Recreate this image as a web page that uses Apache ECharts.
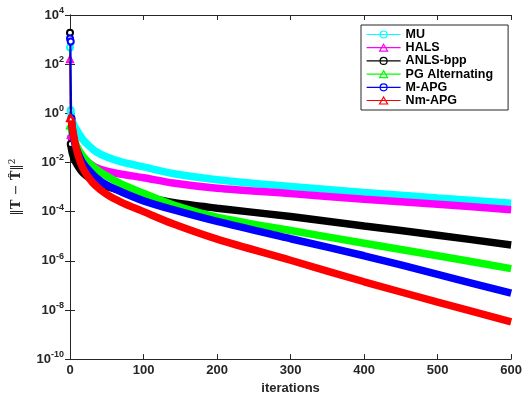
<!DOCTYPE html>
<html>
<head>
<meta charset="utf-8">
<script src="https://cdn.jsdelivr.net/npm/echarts@6/dist/echarts.min.js"></script>
<style>
html,body{margin:0;padding:0;background:#fff;}
#chart{width:525px;height:400px;}
</style>
</head>
<body>
<div id="chart"></div>
<script>
// ---- data ----
const seriesNames = ['MU', 'HALS', 'ANLS-bpp', 'PG Alternating', 'M-APG', 'Nm-APG'];
const seriesColors = ['#00ffff', '#ff00ff', '#000000', '#00ff00', '#0000ff', '#ff0000'];
const seriesMarkers = ['circle', 'triangle', 'circle', 'triangle', 'circle', 'triangle'];

// first iterations (thin segment with markers)
const muStartIters = [0, 1];
const muStart = [480, 1.32];
const halsStartIters = [0, 1];
const halsStart = [160, 0.132];
const anlsStartIters = [0, 1];
const anlsStart = [1900, 0.056];
const pgStartIters = [0, 1];
const pgStart = [0.33, 0.316];
const mapgStartIters = [0, 1, 2];
const mapgStart = [1100, 830, 0.63];
const nmapgStartIters = [0, 1];
const nmapgStart = [0.65, 0.63];

// main curve
const iters = [1, 2, 3, 5, 8, 12, 17, 25, 35, 50, 70, 100, 140, 200, 300, 400, 500, 600];
const muVals = [1.32, 0.63, 0.50, 0.355, 0.24, 0.151, 0.089, 0.050, 0.028, 0.0166, 0.0105, 0.0066, 0.00355, 0.0020, 0.00105, 6.0e-4, 3.55e-4, 2.2e-4];
const halsVals = [0.132, 0.089, 0.071, 0.050, 0.0316, 0.0224, 0.0151, 0.010, 0.0063, 0.00447, 0.00331, 0.0024, 0.00145, 8.9e-4, 5.4e-4, 3.2e-4, 2.0e-4, 1.2e-4];
const anlsVals = [0.056, 0.0355, 0.0251, 0.0158, 0.010, 0.0063, 0.00398, 0.00251, 0.00166, 0.00105, 7.1e-4, 4.2e-4, 2.35e-4, 1.38e-4, 6.3e-5, 2.6e-5, 1.1e-5, 4.4e-6];
const pgVals = [0.316, 0.224, 0.158, 0.1, 0.056, 0.0316, 0.019, 0.01, 0.0056, 0.0028, 0.00132, 5.6e-4, 1.9e-4, 6.0e-5, 1.7e-5, 5.2e-6, 1.6e-6, 4.8e-7];
const mapgIters = [2, 3, 5, 8, 12, 17, 25, 35, 50, 70, 100, 140, 200, 300, 400, 500, 600];
const mapgVals = [0.63, 0.25, 0.1, 0.04, 0.02, 0.01, 0.005, 0.0025, 0.0012, 6.3e-4, 2.75e-4, 1.2e-4, 4.0e-5, 7.9e-6, 1.6e-6, 2.8e-7, 4.8e-8];
const nmapgVals = [0.63, 0.447, 0.282, 0.126, 0.0447, 0.0158, 0.0063, 0.0025, 0.00112, 5.0e-4, 2.4e-4, 1.0e-4, 3.2e-5, 7.6e-6, 1.05e-6, 1.4e-7, 2.1e-8, 3.3e-9];

const xTicks = [0, 100, 200, 300, 400, 500, 600];

const starts = [
  [muStartIters, muStart], [halsStartIters, halsStart], [anlsStartIters, anlsStart],
  [pgStartIters, pgStart], [mapgStartIters, mapgStart], [nmapgStartIters, nmapgStart]
];
const mains = [
  [iters, muVals], [iters, halsVals], [iters, anlsVals],
  [iters, pgVals], [mapgIters, mapgVals], [iters, nmapgVals]
];

function zip(xs, ys) { return xs.map((x, i) => [x, ys[i]]); }

const axisColor = '#262626';
const font = 'Liberation Sans, Arial, Helvetica, sans-serif';

const series = [];
seriesNames.forEach((name, k) => {
  const c = seriesColors[k];
  series.push({
    name: name, type: 'line',
    data: zip(starts[k][0], starts[k][1]),
    symbol: seriesMarkers[k] === 'circle' ? 'emptyCircle' : 'emptyTriangle',
    symbolSize: 6,
    showAllSymbol: true,
    lineStyle: { color: c, width: 1.5 },
    itemStyle: { color: c, borderColor: c, borderWidth: 1 },
    animation: false, silent: true, z: 2 + k
  });
  series.push({
    name: name, type: 'line',
    data: zip(mains[k][0], mains[k][1]),
    showSymbol: false,
    smooth: 0.3,
    lineStyle: { color: c, width: 7.5 },
    itemStyle: { color: c },
    animation: false, silent: true, z: 2 + k
  });
});

const circleIcon = 'path://M0,5L34,5M20.5,5A3.5,3.5,0,1,1,13.5,5A3.5,3.5,0,1,1,20.5,5';
const triIcon = 'path://M0,5L34,5M17,1.5L21,8.5L13,8.5Z';

const chart = echarts.init(document.getElementById('chart'), null, { renderer: 'canvas' });
chart.setOption({
  animation: false,
  backgroundColor: '#ffffff',
  grid: { left: 69.5, right: 11, top: 15, bottom: 34, containLabel: false },
  legend: {
    orient: 'vertical', left: 361, top: 25,
    backgroundColor: '#ffffff',
    borderColor: axisColor, borderWidth: 1, borderRadius: 0,
    padding: [3, 15, 3, 5],
    itemWidth: 34, itemHeight: 7, itemGap: 0.2,
    textStyle: { fontFamily: font, fontWeight: 'bold', fontSize: 12.5, color: '#000', lineHeight: 13 },
    selectedMode: false,
    data: seriesNames.map((n, k) => ({
      name: n,
      icon: seriesMarkers[k] === 'circle' ? circleIcon : triIcon,
      itemStyle: { color: 'transparent', borderColor: seriesColors[k], borderWidth: 1.2 }
    }))
  },
  xAxis: [{
    type: 'value', min: xTicks[0], max: xTicks[xTicks.length - 1], interval: 100,
    name: 'iterations', nameLocation: 'middle', nameGap: 22,
    nameTextStyle: { fontFamily: font, fontWeight: 'bold', fontSize: 13, color: axisColor },
    axisLine: { show: true, lineStyle: { color: axisColor, width: 1 } },
    axisTick: { show: true, inside: true, length: 5, lineStyle: { color: axisColor } },
    axisLabel: { fontFamily: font, fontWeight: 'bold', fontSize: 13, color: axisColor, margin: 5 },
    splitLine: { show: false }
  }, {
    type: 'value', position: 'top', min: xTicks[0], max: xTicks[xTicks.length - 1], interval: 100,
    axisLine: { show: true, lineStyle: { color: axisColor, width: 1 } },
    axisTick: { show: true, inside: true, length: 5, lineStyle: { color: axisColor } },
    axisLabel: { show: false }, splitLine: { show: false }
  }],
  yAxis: [{
    type: 'log', logBase: 10, min: 1e-10, max: 1e4, interval: 2,
    name: '{n|‖}{t|T}{n| − }{t|T̂}{n|‖}{s|2}',
    nameLocation: 'middle', nameGap: 44, nameRotate: 90,
    nameTextStyle: {
      color: axisColor,
      rich: {
        n: { fontFamily: 'DejaVu Serif, serif', fontSize: 13, color: axisColor },
        t: { fontFamily: 'DejaVu Serif, serif', fontWeight: 'bold', fontSize: 13, color: axisColor },
        s: { fontFamily: 'DejaVu Serif, serif', fontSize: 9, color: axisColor, padding: [0, 0, 9, 0] }
      }
    },
    axisLine: { show: true, lineStyle: { color: axisColor, width: 1 } },
    axisTick: { show: true, inside: true, length: 5, lineStyle: { color: axisColor } },
    minorTick: { show: false },
    axisLabel: {
      margin: 6,
      formatter: function (v) {
        const e = Math.round(Math.log10(v));
        return '{b|10}{s|' + e + '}';
      },
      rich: {
        b: { fontFamily: font, fontWeight: 'bold', fontSize: 13, color: axisColor },
        s: { fontFamily: font, fontWeight: 'bold', fontSize: 9, color: axisColor, padding: [0, 0, 9, 0] }
      }
    },
    splitLine: { show: false }
  }, {
    type: 'log', logBase: 10, min: 1e-10, max: 1e4, interval: 2, position: 'right',
    axisLine: { show: true, lineStyle: { color: axisColor, width: 1 } },
    axisTick: { show: true, inside: true, length: 5, lineStyle: { color: axisColor } },
    axisLabel: { show: false }, splitLine: { show: false }
  }],
  series: series
});
</script>
</body>
</html>
